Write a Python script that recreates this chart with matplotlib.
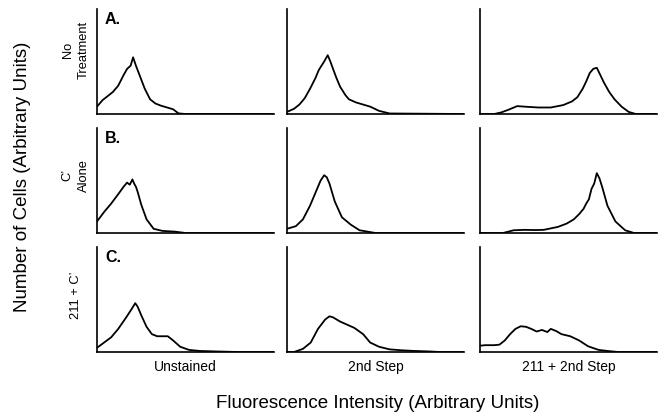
import matplotlib.pyplot as plt

plt.rcParams['font.family'] = ['Liberation Sans', 'DejaVu Sans']

# положение по оси x и высота гистограммы (доли от размеров панели)
a1_x = [0, .03, .06, .09, .12, .15, .17, .19, .204, .22, .245, .27, .30, .33, .36, .40, .43, .46, .5, 1.0]
a1_y = [.07, .13, .17, .21, .27, .37, .43, .46, .54, .46, .35, .24, .14, .10, .08, .06, .045, .006, 0, 0]
a2_x = [0, .04, .07, .10, .13, .16, .18, .21, .23, .245, .26, .28, .30, .33, .35, .39, .43, .47, .52, .58, 1]
a2_y = [.02, .05, .09, .15, .24, .34, .42, .50, .56, .50, .43, .34, .26, .18, .14, .11, .09, .07, .03, .005, 0]
a3_x = [0, .08, .12, .16, .21, .27, .33, .40, .47, .52, .55, .58, .60, .62, .64, .66, .68, .70, .73, .76, .80, .84, .88, 1]
a3_y = [0, 0, .015, .04, .075, .068, .062, .062, .085, .12, .16, .24, .31, .39, .43, .44, .37, .30, .21, .14, .07, .02, 0, 0]

b1_x = [0, .04, .08, .12, .15, .17, .185, .20, .21, .22, .23, .25, .28, .32, .37, .44, .5, 1]
b1_y = [.11, .20, .28, .37, .44, .48, .46, .51, .47, .44, .39, .27, .13, .04, .02, .013, 0, 0]
b2_x = [0, .05, .09, .13, .17, .19, .21, .225, .24, .27, .31, .36, .41, .5, 1]
b2_y = [.04, .065, .13, .26, .42, .50, .55, .53, .47, .30, .15, .08, .026, 0, 0]
b3_x = [0, .13, .19, .25, .31, .36, .44, .49, .53, .56, .585, .60, .615, .63, .645, .66, .675, .69, .72, .765, .82, .87, 1]
b3_y = [0, 0, .026, .03, .028, .03, .058, .09, .13, .18, .23, .28, .32, .42, .47, .57, .52, .44, .26, .11, .026, 0, 0]

c1_x = [0, .04, .08, .12, .165, .196, .216, .23, .25, .28, .31, .34, .36, .40, .43, .47, .52, .58, .68, .80, 1]
c1_y = [.04, .09, .14, .22, .33, .41, .465, .43, .35, .24, .17, .15, .15, .15, .11, .05, .02, .01, .005, 0, 0]
c2_x = [0, .04, .09, .134, .175, .216, .24, .26, .30, .34, .38, .43, .47, .52, .58, .65, .72, .81, .86, 1]
c2_y = [0, 0, .03, .09, .22, .31, .34, .33, .29, .26, .23, .17, .09, .05, .025, .016, .01, .005, 0, 0]
c3_x = [0, .03, .08, .11, .14, .17, .20, .23, .26, .29, .32, .35, .38, .40, .43, .46, .51, .56, .61, .67, .72, .78, 1]
c3_y = [.06, .065, .065, .07, .11, .17, .22, .245, .24, .22, .195, .21, .19, .22, .20, .17, .15, .11, .055, .02, .01, 0, 0]

row_letters = ['A.', 'B.', 'C.']
row_names = ['No\nTreatment', 'C’\nAlone', '211 + C’']
col_names = ['Unstained', '2nd Step', '211 + 2nd Step']

curves = [
    [(a1_x, a1_y), (a2_x, a2_y), (a3_x, a3_y)],
    [(b1_x, b1_y), (b2_x, b2_y), (b3_x, b3_y)],
    [(c1_x, c1_y), (c2_x, c2_y), (c3_x, c3_y)],
]

W, H = 660, 418
col_left = [97, 287, 480]
row_top = [9, 128, 247]
pw, ph = 177, 105
name_y = [0.61, 0.55, 0.54]


def make_axes(fig, r, c):
    left = col_left[c] / W
    bottom = (H - row_top[r] - ph) / H
    ax = fig.add_axes([left, bottom, pw / W, ph / H])
    ax.set_xlim(0, 1)
    ax.set_ylim(0, 1)
    for s in ['top', 'right']:
        ax.spines[s].set_visible(False)
    for s in ['left', 'bottom']:
        ax.spines[s].set_linewidth(1.2)
    ax.set_xticks([])
    ax.set_yticks([])
    return ax


fig = plt.figure(figsize=(6.6, 4.18), dpi=100)

for r in range(3):
    for c in range(3):
        ax = make_axes(fig, r, c)
        x, y = curves[r][c]
        ax.plot(x, y, color='black', lw=1.3)
        if c == 0:
            ax.text(0.045, 0.97, row_letters[r], transform=ax.transAxes,
                    fontsize=11.5, fontweight='bold', va='top', ha='left')
            ax.text(-0.12, name_y[r], row_names[r], transform=ax.transAxes,
                    rotation=90, fontsize=9.3, ha='center', va='center',
                    multialignment='center', linespacing=1.5)
        if r == 2:
            ax.text(0.5, -0.14, col_names[c], transform=ax.transAxes,
                    fontsize=10, ha='center', va='center')

fig.text(378 / W, 1 - 404 / H, 'Fluorescence Intensity (Arbitrary Units)',
         fontsize=13.5, ha='center', va='center')
fig.text(23 / W, 1 - 177 / H, 'Number of Cells (Arbitrary Units)',
         fontsize=13.5, ha='center', va='center', rotation=90)

fig.savefig('out.png', dpi=100)
